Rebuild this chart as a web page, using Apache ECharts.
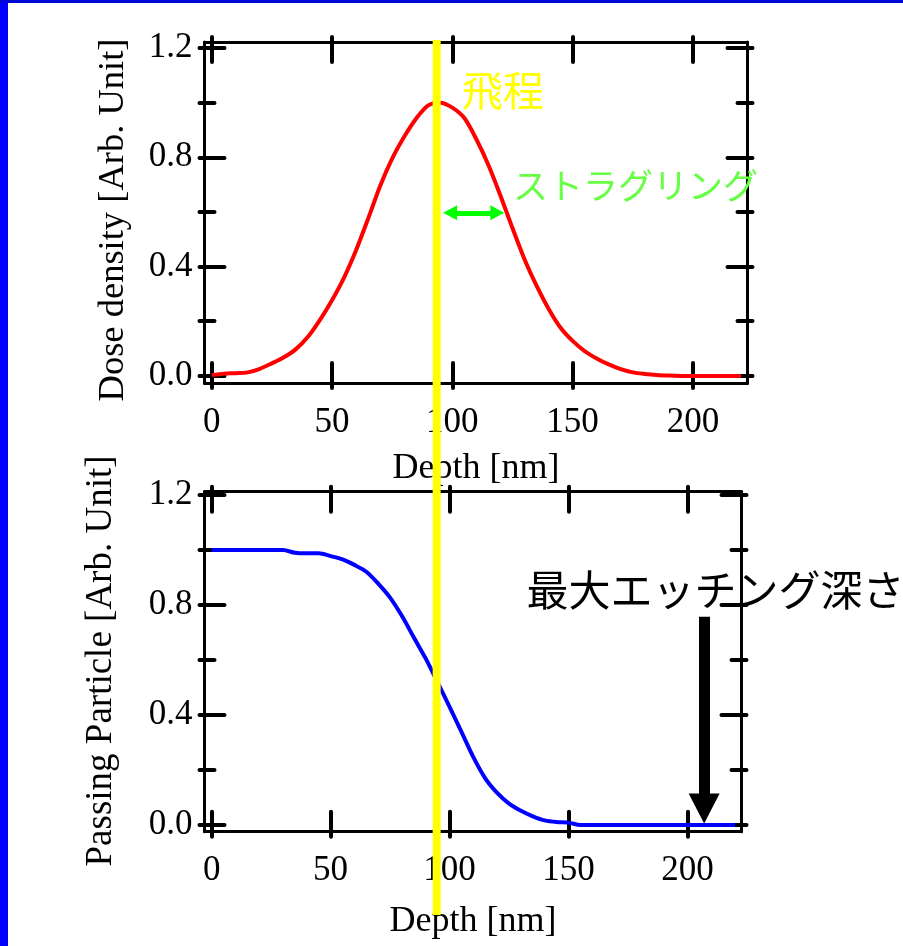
<!DOCTYPE html>
<html>
<head>
<meta charset="utf-8">
<script src="https://cdn.jsdelivr.net/npm/echarts@6/dist/echarts.min.js"></script>
<style>
  html, body { margin: 0; padding: 0; background: #ffffff; }
  #chart { position: absolute; left: 0; top: 0; width: 903px; height: 946px; }
  #bl { position: absolute; left: 0; top: 0; width: 8px; height: 946px; background: #0000ff; z-index: 5; }
  #bt { position: absolute; left: 0; top: 0; width: 903px; height: 3px; background: #0008d8; z-index: 5; }
</style>
</head>
<body>
<div id="chart"></div>
<div id="bl"></div>
<div id="bt"></div>
<script>
// ---------- data ----------
const depth = [0, 5, 10, 15, 20, 25, 30, 35, 40, 45, 50, 55, 60, 65, 70, 75, 80, 85, 90, 95,
  100, 105, 110, 115, 120, 125, 130, 135, 140, 145, 150, 155, 160, 165, 170, 175, 180, 185,
  190, 195, 200, 205, 210, 215, 220];
const doseDensity = [0.003, 0.008, 0.01, 0.013, 0.026, 0.046, 0.068, 0.098, 0.143, 0.205,
  0.277, 0.36, 0.46, 0.575, 0.695, 0.795, 0.875, 0.942, 0.99, 1.0,
  0.982, 0.944, 0.866, 0.772, 0.66, 0.541, 0.427, 0.33, 0.246, 0.176,
  0.128, 0.091, 0.064, 0.042, 0.025, 0.013, 0.007, 0.003,
  0.001, 0, 0, 0, 0, 0, 0];
const passingParticle = [1.0, 1.0, 1.0, 1.0, 1.0, 1.0, 1.0, 0.99, 0.988, 0.988,
  0.978, 0.966, 0.946, 0.921, 0.878, 0.827, 0.76, 0.682, 0.605, 0.518,
  0.43, 0.339, 0.247, 0.17, 0.117, 0.078, 0.052, 0.032, 0.017, 0.011,
  0.009, 0.0, 0, 0, 0, 0, 0, 0,
  0, 0, 0, 0, 0, 0, 0];
const xTickValues = [0, 50, 100, 150, 200];
const yMajorValues = [0, 0.4, 0.8, 1.2];
const yMinorValues = [0.2, 0.6, 1.0];
const yAllValues = [0, 0.2, 0.4, 0.6, 0.8, 1.0, 1.2];

const X_TITLE = 'Depth [nm]';
const Y1_TITLE = 'Dose density [Arb. Unit]';
const Y2_TITLE = 'Passing Particle [Arb. Unit]';

const RANGE_NM = 93.5;            // 飛程 (yellow line)
const STRAGGLE_FROM = 99.1;       // green arrow
const STRAGGLE_TO = 118.7;
const STRAGGLE_Y = 0.597;
const ETCH_DEPTH = 207;           // 最大エッチング深さ arrow
const ETCH_TOP = 0.757;
const ETCH_TIP = 0.06;

const X_MIN = -3, X_MAX = 222.7;
const Y1_MIN = -0.026, Y1_MAX = 1.222;
const Y2_MIN = -0.024, Y2_MAX = 1.212;

const SERIF = '"Liberation Serif", "Times New Roman", serif';
const CJK = '"Noto Sans CJK JP", "Noto Sans", sans-serif';
const tickStyle = { color: '#000', width: 4, cap: 'round' };

function makeXAxes(gridIndex, name, nameGap) {
  const base = {
    type: 'value', gridIndex, min: X_MIN, max: X_MAX,
    splitLine: { show: false }, axisLabel: { show: false },
    axisLine: { show: false, onZero: false }
  };
  return [
    Object.assign({}, base, {
      position: 'bottom', name, nameLocation: 'middle', nameGap,
      nameTextStyle: { fontFamily: SERIF, fontSize: 36, color: '#000' },
      axisLine: { show: true, onZero: false, lineStyle: { color: '#000', width: 3 } },
      axisTick: { show: true, inside: true, length: 20, customValues: xTickValues, lineStyle: tickStyle },
      axisLabel: { show: true, customValues: xTickValues, margin: 22, fontFamily: SERIF, fontSize: 35, color: '#000' }
    }),
    Object.assign({}, base, {
      position: 'bottom',
      axisTick: { show: true, inside: false, length: 5, customValues: xTickValues, lineStyle: tickStyle }
    }),
    Object.assign({}, base, {
      position: 'top',
      axisLine: { show: true, onZero: false, lineStyle: { color: '#000', width: 3 } },
      axisTick: { show: true, inside: true, length: 20, customValues: xTickValues, lineStyle: tickStyle }
    }),
    Object.assign({}, base, {
      position: 'top',
      axisTick: { show: true, inside: false, length: 5, customValues: xTickValues, lineStyle: tickStyle }
    })
  ];
}

function makeYAxes(gridIndex, min, max) {
  const base = {
    type: 'value', gridIndex, min, max,
    splitLine: { show: false }, axisLabel: { show: false },
    axisLine: { show: false, onZero: false }
  };
  const axes = [];
  ['left', 'right'].forEach(function (pos) {
    axes.push(Object.assign({}, base, {
      position: pos,
      axisLine: { show: true, onZero: false, lineStyle: { color: '#000', width: 3 } },
      axisTick: { show: true, inside: true, length: 20, customValues: yMajorValues, lineStyle: tickStyle },
      axisLabel: {
        show: pos === 'left', customValues: yMajorValues, margin: 12,
        fontFamily: SERIF, fontSize: 35, color: '#000',
        formatter: function (v) { return Number(v).toFixed(1); }
      }
    }));
    axes.push(Object.assign({}, base, {
      position: pos,
      axisTick: { show: true, inside: true, length: 10, customValues: yMinorValues, lineStyle: tickStyle }
    }));
    axes.push(Object.assign({}, base, {
      position: pos,
      axisTick: { show: true, inside: false, length: 5, customValues: yAllValues, lineStyle: tickStyle }
    }));
  });
  return axes;
}

const chart = echarts.init(document.getElementById('chart'), null, { renderer: 'canvas' });

const option = {
  animation: false,
  backgroundColor: 'transparent',
  grid: [
    { left: 204.5, top: 42, width: 543, height: 341, outerBoundsMode: 'none', containLabel: false },
    { left: 204.5, top: 491.7, width: 537, height: 340, outerBoundsMode: 'none', containLabel: false }
  ],
  xAxis: makeXAxes(0, X_TITLE, 68).concat(makeXAxes(1, X_TITLE, 72)),
  yAxis: makeYAxes(0, Y1_MIN, Y1_MAX).concat(makeYAxes(1, Y2_MIN, Y2_MAX)),
  series: [
    {
      type: 'line', xAxisIndex: 0, yAxisIndex: 0,
      data: depth.map(function (d, i) { return [d, doseDensity[i]]; }),
      showSymbol: false, smooth: 0.3,
      lineStyle: { color: '#ff0000', width: 4 },
      markLine: {
        silent: true, animation: false,
        symbol: ['triangle', 'triangle'], symbolSize: [15, 14],
        label: { show: false },
        lineStyle: { color: '#00ff00', width: 5, type: 'solid' },
        data: [[{ coord: [STRAGGLE_FROM, STRAGGLE_Y] }, { coord: [STRAGGLE_TO, STRAGGLE_Y] }]]
      }
    },
    {
      type: 'line', xAxisIndex: 4, yAxisIndex: 6,
      data: depth.map(function (d, i) { return [d, passingParticle[i]]; }),
      showSymbol: false, smooth: 0.3,
      lineStyle: { color: '#0000ff', width: 4 },
      markLine: {
        silent: true, animation: false,
        symbol: ['none', 'triangle'], symbolSize: [31, 30],
        label: { show: false },
        lineStyle: { color: '#000000', width: 11, type: 'solid' },
        data: [[{ coord: [ETCH_DEPTH, ETCH_TOP] }, { coord: [ETCH_DEPTH, ETCH_TIP] }]]
      }
    }
  ]
};
chart.setOption(option);

// annotations positioned from data coordinates
const yellowX = chart.convertToPixel({ xAxisIndex: 0 }, RANGE_NM);
const pRange = chart.convertToPixel({ gridIndex: 0 }, [104, 1.045]);
const pStraggle = chart.convertToPixel({ gridIndex: 0 }, [125.2, 0.695]);
const pEtch = chart.convertToPixel({ gridIndex: 1 }, [132.3, 0.855]);

chart.setOption({
  graphic: [
    {
      type: 'text', z: 50, silent: true, x: 113, y: 220, rotation: Math.PI / 2,
      style: { text: Y1_TITLE, fill: '#000', fontFamily: SERIF, fontSize: 36.5, align: 'center', verticalAlign: 'middle' }
    },
    {
      type: 'text', z: 50, silent: true, x: 101, y: 661, rotation: Math.PI / 2,
      style: { text: Y2_TITLE, fill: '#000', fontFamily: SERIF, fontSize: 37, align: 'center', verticalAlign: 'middle' }
    },
    {
      type: 'line', z: 100, silent: true,
      shape: { x1: yellowX, y1: 40, x2: yellowX, y2: 915 },
      style: { stroke: '#ffff00', lineWidth: 8, lineCap: 'butt' }
    },
    {
      type: 'text', z: 101, silent: true, x: pRange[0], y: pRange[1],
      style: { text: '飛程', fill: '#ffff00', fontFamily: CJK, fontSize: 41, verticalAlign: 'middle', align: 'left' }
    },
    {
      type: 'text', z: 101, silent: true, x: pStraggle[0], y: pStraggle[1],
      style: { text: 'ストラグリング', fill: '#66ff44', fontFamily: CJK, fontSize: 35, verticalAlign: 'middle', align: 'left' }
    },
    {
      type: 'text', z: 101, silent: true, x: pEtch[0], y: pEtch[1],
      style: { text: '最大エッチング深さ', fill: '#000000', fontFamily: CJK, fontSize: 42, verticalAlign: 'middle', align: 'left' }
    }
  ]
});
</script>
</body>
</html>
